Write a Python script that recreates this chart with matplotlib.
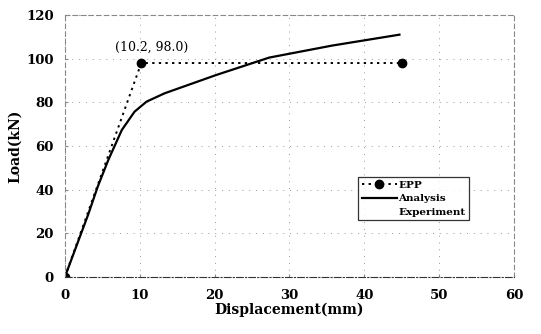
import matplotlib
matplotlib.use("Agg")
from matplotlib import pyplot as plt

# EPP idealisation (elastic perfectly plastic)
epp_x = [0, 10.2, 45]
epp_y = [0, 98.0, 98.0]

# analysis curve
ana_x = [0, 3.1, 4.4, 5.8, 7.6, 9.3, 10.9, 13.3, 20.2, 27.3, 35.7, 44.7]
ana_y = [0, 28.5, 41.5, 53.6, 67.3, 75.7, 80.3, 84.1, 92.5, 100.5, 106.0, 111.0]

xticks = [0, 10, 20, 30, 40, 50, 60]
yticks = [0, 20, 40, 60, 80, 100, 120]

plt.rcParams['font.family'] = ['DejaVu Serif']

fig = plt.figure(figsize=(5.41, 3.34), dpi=100)
ax = fig.add_axes([0.120, 0.171, 0.830, 0.784])

ax.plot(epp_x, epp_y, linestyle=(0, (1.2, 2.2)), color='black', linewidth=1.4,
        marker='o', markersize=6, label='EPP')
ax.plot(ana_x, ana_y, color='black', linewidth=1.6, label='Analysis')
ax.plot([], [], linestyle='none', label='Experiment')

ax.text(11.6, 105, '(10.2, 98.0)', ha='center', va='center', fontsize=9)

ax.set_xlim(0, 60)
ax.set_ylim(0, 120)
ax.set_xticks(xticks)
ax.set_yticks(yticks)
ax.tick_params(labelsize=9.5, length=2, direction='in', color='#888888')
ax.tick_params(axis='x', pad=9)
ax.tick_params(axis='y', pad=8)
for lab in ax.get_xticklabels() + ax.get_yticklabels():
    lab.set_fontweight('bold')

ax.grid(True, linestyle=(0, (1, 6)), color='#999999', linewidth=0.7)
for side in ['top', 'right', 'left']:
    ax.spines[side].set_color('#888888')
    ax.spines[side].set_linestyle((0, (4, 3)))
    ax.spines[side].set_linewidth(0.8)
ax.spines['bottom'].set_color('#333333')
ax.spines['bottom'].set_linestyle((0, (6, 2, 1, 2)))

ax.set_xlabel('Displacement(mm)', fontsize=10, fontweight='bold', labelpad=0)
ax.set_ylabel('Load(kN)', fontsize=10, fontweight='bold', labelpad=3)

leg = ax.legend(loc='upper left', bbox_to_anchor=(0.653, 0.382), borderaxespad=0,
                frameon=True, fancybox=False, shadow=False, handlelength=3.4,
                handletextpad=0.1, borderpad=0.35, labelspacing=0.4,
                prop={'weight': 'bold', 'size': 7.5})
leg.get_frame().set_edgecolor('black')
leg.get_frame().set_linewidth(0.9)

fig.savefig('out.png', dpi=100)
